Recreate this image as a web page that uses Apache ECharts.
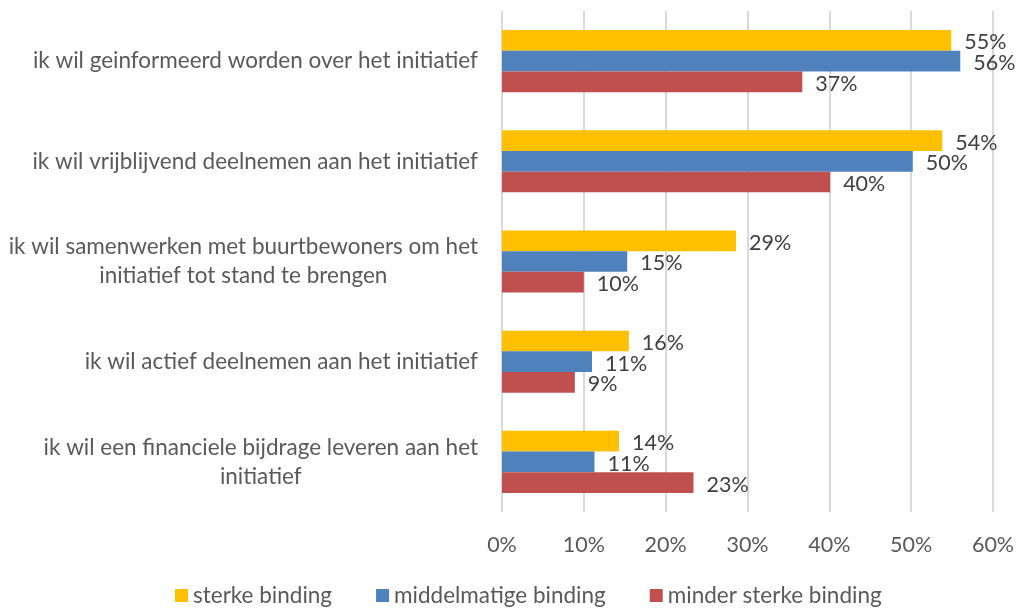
<!DOCTYPE html>
<html>
<head>
<meta charset="utf-8">
<script src="https://cdn.jsdelivr.net/npm/echarts@6/dist/echarts.min.js"></script>
<style>
  html, body { margin: 0; padding: 0; background: #fff; }
  #chart { width: 1020px; height: 608px; }
</style>
</head>
<body>
<div id="chart"></div>
<script>
// categories, top to bottom
const categories = [
  'ik wil geinformeerd worden over het initiatief',
  'ik wil vrijblijvend deelnemen aan het initiatief',
  'ik wil samenwerken met buurtbewoners om het\ninitiatief tot stand te brengen',
  'ik wil actief deelnemen aan het initiatief',
  'ik wil een financiele bijdrage leveren aan het\ninitiatief'
]
const seriesNames = ['sterke binding', 'middelmatige binding', 'minder sterke binding']
// percentages
const sterke = [54.9, 53.8, 28.6, 15.5, 14.3]
const middelmatige = [56.0, 50.2, 15.3, 11.0, 11.3]
const minderSterke = [36.7, 40.1, 10.0, 8.9, 23.4]
const xTicks = [0, 10, 20, 30, 40, 50, 60]

const colors = ['#FFC000', '#4F81BD', '#C0504D']
const font = 'Lato'

const chart = echarts.init(document.getElementById('chart'))

function barSeries(name, data, color) {
  return {
    name: name,
    type: 'bar',
    data: data,
    barGap: '0%',
    barCategoryGap: '38%',
    itemStyle: {color: color},
    label: {
      show: true,
      position: 'right',
      distance: 13,
      offset: [0, 2],
      color: '#404040',
      fontFamily: font,
      fontSize: 21.5,
      formatter: p => Math.round(p.value) + '%'
    }
  }
}

const option = {
  animation: false,
  grid: {
    top: 11,
    bottom: 96,
    left: 502,
    right: 27
  },
  xAxis: {
    type: 'value',
    min: xTicks[0],
    max: xTicks[xTicks.length - 1],
    interval: 10,
    axisLine: {show: false},
    axisTick: {show: false},
    splitLine: {lineStyle: {color: '#D9D9D9', width: 2}},
    axisLabel: {
      margin: 22,
      color: '#595959',
      fontFamily: font,
      fontSize: 21.5,
      formatter: v => v + '%'
    }
  },
  yAxis: {
    type: 'category',
    inverse: true,
    data: categories,
    axisLine: {show: false},
    axisTick: {show: false},
    axisLabel: {
      margin: 24,
      color: '#595959',
      fontFamily: font,
      fontSize: 22.5,
      lineHeight: 29,
      formatter: v => v.split('\n').map(s => '{c|' + s + '}').join('\n'),
      rich: {
        c: {align: 'center', color: '#595959', fontFamily: font, fontSize: 22.5, lineHeight: 29}
      }
    }
  },
  legend: {
    bottom: -4,
    left: 170,
    itemWidth: 13,
    itemHeight: 13,
    itemGap: 44,
    icon: 'rect',
    textStyle: {color: '#595959', fontFamily: font, fontSize: 22.5, padding: [0, 0, 0, 0]},
    data: seriesNames
  },
  series: [
    barSeries(seriesNames[0], sterke, colors[0]),
    barSeries(seriesNames[1], middelmatige, colors[1]),
    barSeries(seriesNames[2], minderSterke, colors[2])
  ]
}

chart.setOption(option)
</script>
</body>
</html>
